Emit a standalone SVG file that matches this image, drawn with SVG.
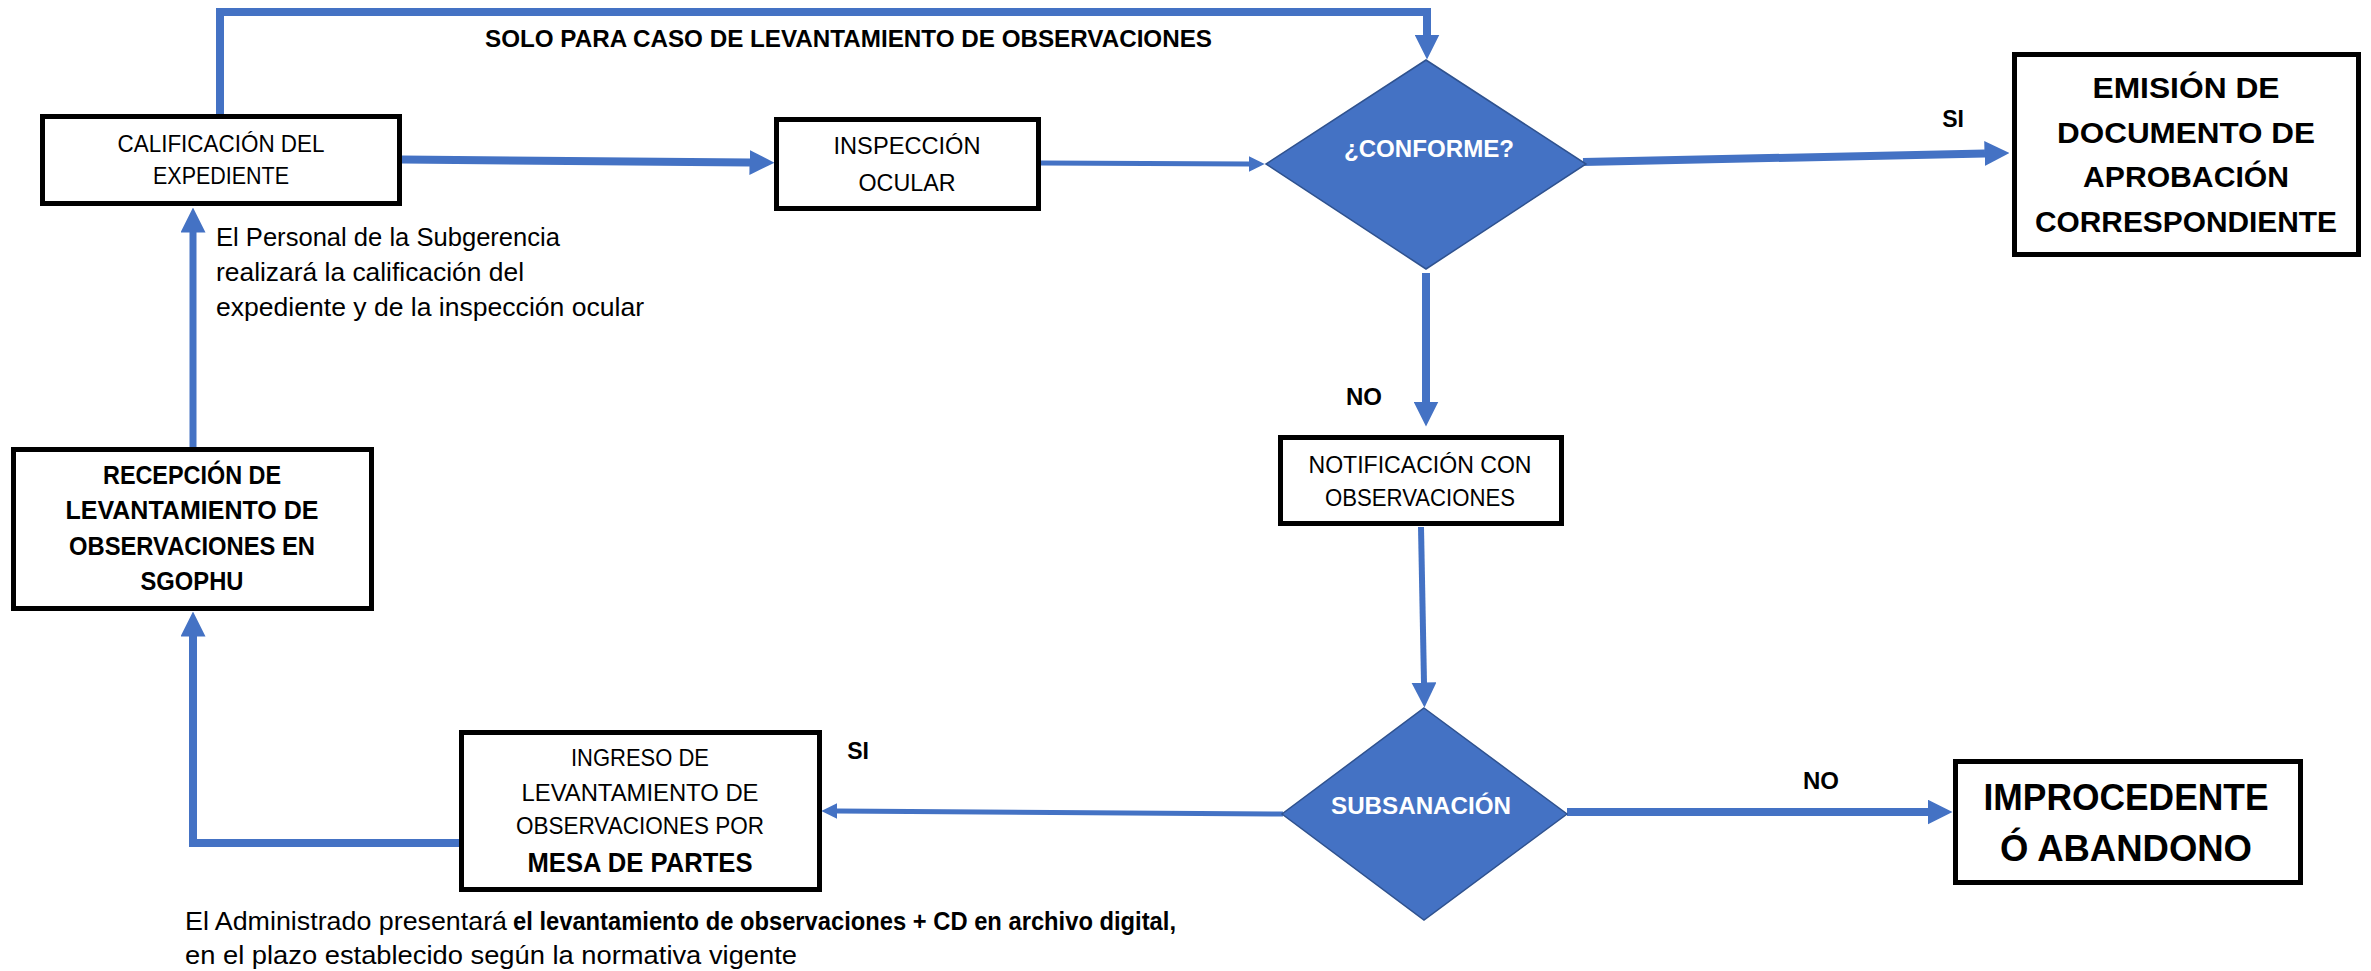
<svg xmlns="http://www.w3.org/2000/svg" width="2371" height="971" viewBox="0 0 2371 971">
<style>
.box{fill:#fff;stroke:#000;stroke-width:5}
.dia{fill:#4472C4;stroke:#2F528F;stroke-width:1.5}
.t{font-family:"Liberation Sans",Arial,sans-serif;fill:#000}
.r{font-size:24px}
.b{font-weight:bold}
.m{text-anchor:middle}
.w{fill:#fff}
.c{fill:none;stroke:#4472C4;stroke-linejoin:miter}
.th{stroke-width:8;marker-end:url(#ah)}
.tn{stroke-width:5;marker-end:url(#as)}
</style>
<defs>
<marker id="ah" markerUnits="userSpaceOnUse" viewBox="0 0 10 10" refX="0.2" refY="5" markerWidth="25" markerHeight="25" orient="auto">
<path d="M0,0 L10,5 L0,10 z" fill="#4472C4"/>
</marker>
<marker id="as" markerUnits="userSpaceOnUse" viewBox="0 0 10 10" refX="0.2" refY="5" markerWidth="16" markerHeight="16" orient="auto">
<path d="M0,0 L10,5 L0,10 z" fill="#4472C4"/>
</marker>
</defs>
<rect width="2371" height="971" fill="#fff"/>

<g id="connectors">
<path class="c th" d="M220,116 V12 H1427 V35"/>
<path class="c th" d="M402,159.5 L750,162.5"/>
<path class="c tn" d="M1041,163 L1249,164"/>
<path class="c th" d="M1583,162 L1985,153.5"/>
<path class="c th" d="M1426,273 V402"/>
<path class="c th" style="stroke-width:6" d="M1421,527 L1424,683"/>
<path class="c tn" d="M1283,814 L837,811"/>
<path class="c th" d="M1567,812 H1928"/>
<path class="c th" d="M459,843 H193 V636"/>
<path class="c th" style="stroke-width:7" d="M193,447 V232"/>
</g>

<g id="lbl-solo">
<text class="t b m" x="848.5" y="47" font-size="24" textLength="727" lengthAdjust="spacingAndGlyphs">SOLO PARA CASO DE LEVANTAMIENTO DE OBSERVACIONES</text>
</g>
<g id="lbl-si-1"><text class="t b m" x="1953" y="127" font-size="23">SI</text></g>
<g id="lbl-no-1"><text class="t b m" x="1364" y="405" font-size="24">NO</text></g>
<g id="lbl-si-2"><text class="t b m" x="858" y="759" font-size="23">SI</text></g>
<g id="lbl-no-2"><text class="t b m" x="1821" y="789" font-size="24">NO</text></g>

<g id="note-personal">
<text class="t" x="216" y="246" font-size="26" textLength="344" lengthAdjust="spacingAndGlyphs">El Personal de la Subgerencia</text>
<text class="t" x="216" y="281" font-size="26" textLength="308" lengthAdjust="spacingAndGlyphs">realizará la calificación del</text>
<text class="t" x="216" y="316" font-size="26" textLength="428" lengthAdjust="spacingAndGlyphs">expediente y de la inspección ocular</text>
</g>

<g id="note-administrado">
<text class="t" x="185" y="930" font-size="26" textLength="322" lengthAdjust="spacingAndGlyphs">El Administrado presentará</text>
<text class="t b" x="513" y="930" font-size="26" textLength="663" lengthAdjust="spacingAndGlyphs">el levantamiento de observaciones + CD en archivo digital,</text>
<text class="t" x="185" y="964" font-size="26" textLength="612" lengthAdjust="spacingAndGlyphs">en el plazo establecido según la normativa vigente</text>
</g>

<g id="node-calificacion">
<rect class="box" x="42.5" y="116.5" width="357" height="87"/>
<text class="t r m" x="221" y="152" textLength="207" lengthAdjust="spacingAndGlyphs">CALIFICACIÓN DEL</text>
<text class="t r m" x="221" y="184" textLength="136" lengthAdjust="spacingAndGlyphs">EXPEDIENTE</text>
</g>

<g id="node-inspeccion">
<rect class="box" x="776.5" y="119.5" width="262" height="89"/>
<text class="t r m" x="907" y="154" textLength="147" lengthAdjust="spacingAndGlyphs">INSPECCIÓN</text>
<text class="t r m" x="907" y="191" textLength="97" lengthAdjust="spacingAndGlyphs">OCULAR</text>
</g>

<g id="node-conforme">
<polygon class="dia" points="1426,60 1586,164 1426,269 1266,164"/>
<text class="t b m w" x="1429" y="157" font-size="24" textLength="170" lengthAdjust="spacingAndGlyphs">¿CONFORME?</text>
</g>

<g id="node-emision">
<rect class="box" x="2014.5" y="54.5" width="344" height="200"/>
<text class="t b m" x="2186" y="98" font-size="29" textLength="187" lengthAdjust="spacingAndGlyphs">EMISIÓN DE</text>
<text class="t b m" x="2186" y="143" font-size="29" textLength="258" lengthAdjust="spacingAndGlyphs">DOCUMENTO DE</text>
<text class="t b m" x="2186" y="187" font-size="29" textLength="206" lengthAdjust="spacingAndGlyphs">APROBACIÓN</text>
<text class="t b m" x="2186" y="232" font-size="29" textLength="302" lengthAdjust="spacingAndGlyphs">CORRESPONDIENTE</text>
</g>

<g id="node-notificacion">
<rect class="box" x="1280.5" y="437.5" width="281" height="86"/>
<text class="t r m" x="1420" y="473" textLength="223" lengthAdjust="spacingAndGlyphs">NOTIFICACIÓN CON</text>
<text class="t r m" x="1420" y="506" textLength="190" lengthAdjust="spacingAndGlyphs">OBSERVACIONES</text>
</g>

<g id="node-subsanacion">
<polygon class="dia" points="1424,708 1567,814 1424,920 1282,814"/>
<text class="t b m w" x="1421" y="814" font-size="24" textLength="180" lengthAdjust="spacingAndGlyphs">SUBSANACIÓN</text>
</g>

<g id="node-improcedente">
<rect class="box" x="1955.5" y="761.5" width="345" height="121"/>
<text class="t b m" x="2126" y="810" font-size="36" textLength="285" lengthAdjust="spacingAndGlyphs">IMPROCEDENTE</text>
<text class="t b m" x="2126" y="861" font-size="36" textLength="252" lengthAdjust="spacingAndGlyphs">Ó ABANDONO</text>
</g>

<g id="node-recepcion">
<rect class="box" x="13.5" y="449.5" width="358" height="159"/>
<text class="t b m" x="192" y="484" font-size="25" textLength="178" lengthAdjust="spacingAndGlyphs">RECEPCIÓN DE</text>
<text class="t b m" x="192" y="519" font-size="25" textLength="253" lengthAdjust="spacingAndGlyphs">LEVANTAMIENTO DE</text>
<text class="t b m" x="192" y="555" font-size="25" textLength="246" lengthAdjust="spacingAndGlyphs">OBSERVACIONES EN</text>
<text class="t b m" x="192" y="590" font-size="25" textLength="103" lengthAdjust="spacingAndGlyphs">SGOPHU</text>
</g>

<g id="node-ingreso">
<rect class="box" x="461.5" y="732.5" width="358" height="157"/>
<text class="t r m" x="640" y="766" textLength="138" lengthAdjust="spacingAndGlyphs">INGRESO DE</text>
<text class="t r m" x="640" y="801" textLength="237" lengthAdjust="spacingAndGlyphs">LEVANTAMIENTO DE</text>
<text class="t r m" x="640" y="834" textLength="248" lengthAdjust="spacingAndGlyphs">OBSERVACIONES POR</text>
<text class="t b m" x="640" y="872" font-size="28" textLength="225" lengthAdjust="spacingAndGlyphs">MESA DE PARTES</text>
</g>
</svg>
